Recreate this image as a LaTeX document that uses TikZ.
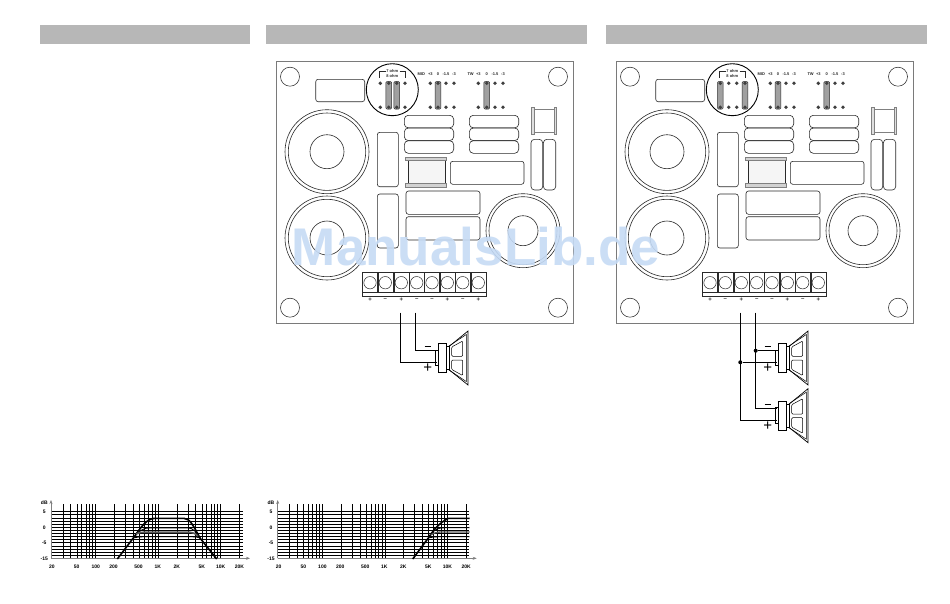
\documentclass[tikz,border=0pt]{standalone}
\usepackage{fontspec}
\setmainfont{Liberation Sans}
\usetikzlibrary{arrows.meta}
\definecolor{barg}{HTML}{B7B7B7}
\definecolor{edgeg}{HTML}{7A7A7A}
\definecolor{ink}{HTML}{2A2A2A}
\definecolor{jump}{HTML}{A0A0A0}
\definecolor{wm}{HTML}{C6DBF5}
\tikzset{
  titlebar/.style={fill=barg,draw=none},
  pcb/.style={draw=edgeg,line width=0.9pt,fill=white},
  part/.style={draw=ink,line width=0.6pt,rounded corners=2.5pt},
  mount/.style={draw=ink,line width=0.55pt},
  coilline/.style={draw=ink,line width=0.6pt},
  pinhole/.style={circle,fill=ink!90,inner sep=0pt,minimum size=3.8pt},
  jumper/.style={draw=ink,fill=jump,line width=0.5pt,rounded corners=1pt},
  tiny/.style={font=\bfseries\fontsize{4}{4}\selectfont,inner sep=0pt,text=ink},
  termbox/.style={draw=ink,line width=0.6pt,minimum width=15pt,minimum height=20pt,inner sep=0pt},
  termsign/.style={font=\bfseries\fontsize{6}{6}\selectfont,inner sep=0pt,text=ink},
  wire/.style={draw=black,line width=0.75pt},
  dotj/.style={circle,fill=black,inner sep=0pt,minimum size=4pt},
  polarity/.style={font=\fontsize{15}{15}\selectfont,inner sep=0pt},
  gridl/.style={draw=black,line width=0.75pt},
  axislab/.style={font=\bfseries\fontsize{5}{5}\selectfont,inner sep=0pt},
  resp/.style={draw=black,line width=0.9pt},
  axisarrow/.style={draw=gray,line width=0.5pt,-{Stealth[length=4pt,width=3pt]}},
}
\newcommand{\pinrow}[2]{%
  \foreach \px in {#1}{\node[pinhole] (p#2a\px) at (\px,83.3) {};\node[pinhole] (p#2b\px) at (\px,107.3) {};}}
\newcommand{\jmp}[1]{\path[jumper] (#1-2.8,81.5) rectangle (#1+2.8,109);
  \node[pinhole] at (#1,83.3) {};\node[pinhole] at (#1,107.3) {};}
\newcommand{\pcbboard}[3]{%
 \begin{scope}[xshift=#1pt]
  \path[pcb] (276,61) rectangle (573,323);
  \foreach \hx/\hy/\hn in {290/76.7/a,558/76.7/b,290/307.7/c,558/307.7/d}
    \path[mount] (\hx,\hy) circle (9.5pt);
  \path[part] (315.7,79.3) rectangle (364.7,101.7);
  \foreach \cy in {151.7,238}{
    \path[coilline] (327,\cy) circle (42pt);
    \path[coilline] (327,\cy) circle (38.7pt);
    \path[coilline] (327,\cy) circle (17pt);}
  \path[coilline] (523,230.7) circle (37pt);
  \path[coilline] (523,230.7) circle (34pt);
  \path[coilline] (523,230.7) circle (15pt);
  \path[part] (377.3,132.3) rectangle (398.3,186.7);
  \path[part] (377.3,194) rectangle (398.3,248);
  \foreach \sx in {404.3,469.3}\foreach \sy in {115.3,128,140.7}
    \path[part,rounded corners=4pt] (\sx,\sy) rectangle (\sx+49.4,\sy+12.6);
  % centre transformer
  \path[draw=ink,line width=0.5pt,fill=gray!8] (408,160.7) rectangle (445,183.3);
  \path[draw=gray,line width=0.6pt,fill=gray!35] (405.7,157.3) rectangle (446.7,160.7);
  \path[draw=gray,line width=0.6pt,fill=gray!35] (405.7,183.3) rectangle (446.7,187.3);
  \path[part] (450.3,161.3) rectangle (524,184.3);
  % top right bobbin
  \path[draw=gray,line width=0.5pt] (533,109) rectangle (555,132.5);
  \path[draw=gray,line width=0.5pt,fill=gray!25] (531,107.3) rectangle (533.8,134.3);
  \path[draw=gray,line width=0.5pt,fill=gray!25] (553.8,107.3) rectangle (556.7,134.3);
  \path[part,rounded corners=3.5pt] (531,139.3) rectangle (542.7,190);
  \path[part,rounded corners=3.5pt] (543.4,139.3) rectangle (555.7,190);
  \path[part] (406,191) rectangle (480,214.3);
  \path[part] (406,216.7) rectangle (480,240);
  % jumper groups
  \pinrow{380.3,388.7,396.7,405}{#2}
  \pinrow{430.3,438,446,454}{#2}
  \pinrow{478.3,486.7,495,503}{#2}
  #3
  \jmp{438}\jmp{486.7}
  \path[draw=black,line width=0.9pt] (392.3,89.7) circle (26pt);
  \path[draw=ink,line width=0.6pt] (379.5,77.5) -- (379.5,71) -- (385.5,71);
  \path[draw=ink,line width=0.6pt] (399.5,71) -- (405,71) -- (405,77.5);
  \node[tiny] (ohmA#2) at (392.3,71.5) {7 ohm};
  \node[tiny] (ohmB#2) at (392.3,76) {8 ohm};
  \node[tiny,anchor=west] (midL#2) at (417.5,74) {MID};
  \foreach \tx/\tt/\tn in {430.3/+3/a,438/0/b,446/-1.5/c,454/-3/d}{\node[tiny] (mid\tn#2) at (\tx,74) {\tt};}
  \node[tiny,anchor=west] (twL#2) at (467.3,74) {TW};
  \foreach \tx/\tt/\tn in {478.3/+3/a,486.7/0/b,495/-1.5/c,503/-3/d}{\node[tiny] (tw\tn#2) at (\tx,74) {\tt};}
  % terminals
  \path[draw=ink,line width=0.6pt] (362.3,272.7) rectangle (486.7,296);
  \foreach \tn/\tx/\ts in {1/370/+,2/385.3/--,3/401.3/+,4/416.7/--,5/432/--,6/447.3/+,7/462.7/--,8/478.3/+}{
    \node[termbox] (term#2\tn) at (\tx,282.7) {};
    \path[draw=ink,line width=0.5pt] (\tx,282.7) circle (6.2pt);
    \node[termsign] (sign#2\tn) at (\tx,299.3) {\ts};
  }
  \coordinate (wp#2) at (400.3,312.5);
  \coordinate (wm#2) at (415.7,312.5);
 \end{scope}}
\newcommand{\speaker}[3]{%
 \begin{scope}[shift={(#1,#2)}]
  \path[draw=black,line width=0.5pt,fill=white] (435.7,350) rectangle (438.3,365.5);
  \path[draw=black,line width=0.8pt,fill=white] (438.3,343.3) rectangle (446,372.7);
  \path[draw=black,line width=0.5pt] (446,346.5) -- (449,346.5) -- (449,369.7) -- (446,369.7);
  \path[draw=black,line width=0.7pt] (449,346.5) -- (468,331) -- (468,385) -- (449,369.7);
  \path[draw=black,line width=0.5pt] (449,346) -- (466.3,334.5) -- (466.3,381.5) -- (449,370);
  \path[draw=black,line width=0.5pt,rounded corners=1pt] (451.7,347) -- (462.7,341) -- (462.7,356.3) -- (451.7,356.3) -- cycle;
  \path[draw=black,line width=0.5pt,rounded corners=1pt] (451.7,360) -- (462.7,360) -- (462.7,375.5) -- (451.7,369.5) -- cycle;
  \coordinate (spkm#3) at (436.7,350.7);
  \coordinate (spkp#3) at (436.7,362.3);
  \path[draw=black,line width=1.2pt] (424.7,346.7) -- (431,346.7);
  \node[polarity] (sgn#3) at (427.7,368.6) {+};
 \end{scope}}
\newcommand{\respgraph}[3]{%
 \begin{scope}[xshift=#1pt]
  \foreach \n in {0,...,15}
    \path[gridl] (51,{511.7+3.107*\n}) -- (242.7,{511.7+3.107*\n});
  \foreach \f in {0.3,0.4,0.5,0.6,0.7,0.8,0.9,1,2,3,4,5,6,7,8,9,10,20,30,40,50,60,70,80,90,100,200}{
    \pgfmathsetmacro{\fx}{95.7+62.5*log10(\f)}
    \path[gridl] (\fx,504) -- (\fx,558.3);}
  \coordinate (org#2) at (51,558.3);
  \coordinate (ytop#2) at (51,500);
  \coordinate (xend#2) at (250,558.3);
  \path[axisarrow] (org#2) -- (ytop#2);
  \path[axisarrow] (org#2) -- (xend#2);
  \foreach \ly/\lt/\ln in {502.5/dB/a,511.7/5/b,527.3/0/c,542.8/-5/d,559/-15/e}
    \node[axislab] (yl#2\ln) at (44.3,\ly) {\lt};
  \foreach \lx/\lt/\ln in {52/20/a,76.7/50/b,95.7/100/c,113.5/200/d,138.5/500/e,157.7/1K/f,176.7/2K/g,201.7/5K/h,220.7/10K/i,239.5/20K/j}
    \node[axislab] (xl#2\ln) at (\lx,566.7) {\lt};
  #3
 \end{scope}}
\begin{document}
\begin{tikzpicture}[x=1pt,y=-1pt]
\useasboundingbox (0,0) rectangle (950,603);
\fill[white] (0,0) rectangle (950,603);
\path[titlebar] (40,25) rectangle (249.5,44.3);
\path[titlebar] (266,25) rectangle (587,44.3);
\path[titlebar] (606,25) rectangle (926.5,44.3);

\pcbboard{0}{L}{\jmp{388.7}\jmp{396.7}}
\pcbboard{340}{R}{\jmp{380.3}\jmp{405}}

% left speaker
\speaker{0}{0}{A}
\draw[wire] (wpL) |- (spkpA);
\draw[wire] (wmL) |- (spkmA);

% right speakers
\speaker{340}{0}{B}
\speaker{340}{57.7}{C}
\draw[wire] (wpR) |- (spkpC);
\draw[wire] (wmR) |- (spkmC);
\node[dotj] (jp) at (wpR |- spkpB) {};
\node[dotj] (jm) at (wmR |- spkmB) {};
\draw[wire] (jp) -- (spkpB);
\draw[wire] (jm) -- (spkmB);

% response graphs
\respgraph{0}{G}{
  \draw[resp,line width=1.6pt] (117.3,559) -- (133.3,538) .. controls (141,527) and (147,518.3) .. (155,518.3) -- (184,518.3) .. controls (190,518.3) and (194,527) .. (200,538) -- (216.7,559);
  \draw[resp,line width=0.9pt] (133.3,538) .. controls (139,531) and (143,527.8) .. (150,527.8) -- (188,527.8) .. controls (193,527.8) and (197,533) .. (200,538);
  \draw[resp,draw=gray!70!black,line width=1.6pt] (136,534) .. controls (140,532) and (143,532.2) .. (148,532.2) -- (190,532.2) .. controls (193,532.2) and (196,534) .. (198,536);
  \draw[resp,line width=0.8pt] (133.3,538) .. controls (137,537) and (140,536.8) .. (145,536.8) -- (192,536.8) .. controls (195,536.8) and (198,537) .. (200,538);
}
\respgraph{226.7}{H}{
  \draw[resp,line width=1.6pt] (186,559) -- (201.6,538) .. controls (208,528) and (213,523) .. (221.6,518.3) -- (243,518.3);
  \draw[resp,line width=0.8pt] (205,533) .. controls (209,529) and (212,527.8) .. (218,527.8) -- (243,527.8);
  \draw[resp,draw=gray!70!black,line width=1.3pt] (204,535) .. controls (208,532.4) and (211,532) .. (216,532) -- (243,532);
  \draw[resp,line width=0.8pt] (201.6,538) .. controls (205,537) and (208,536.8) .. (213,536.8) -- (243,536.8);
}

% overprinted mark
\node[font=\bfseries\fontsize{53}{53}\selectfont,text=wm,opacity=0.9,inner sep=0pt,anchor=base] (mark) at (476,265.5) {ManualsLib.de};
\end{tikzpicture}
\end{document}
